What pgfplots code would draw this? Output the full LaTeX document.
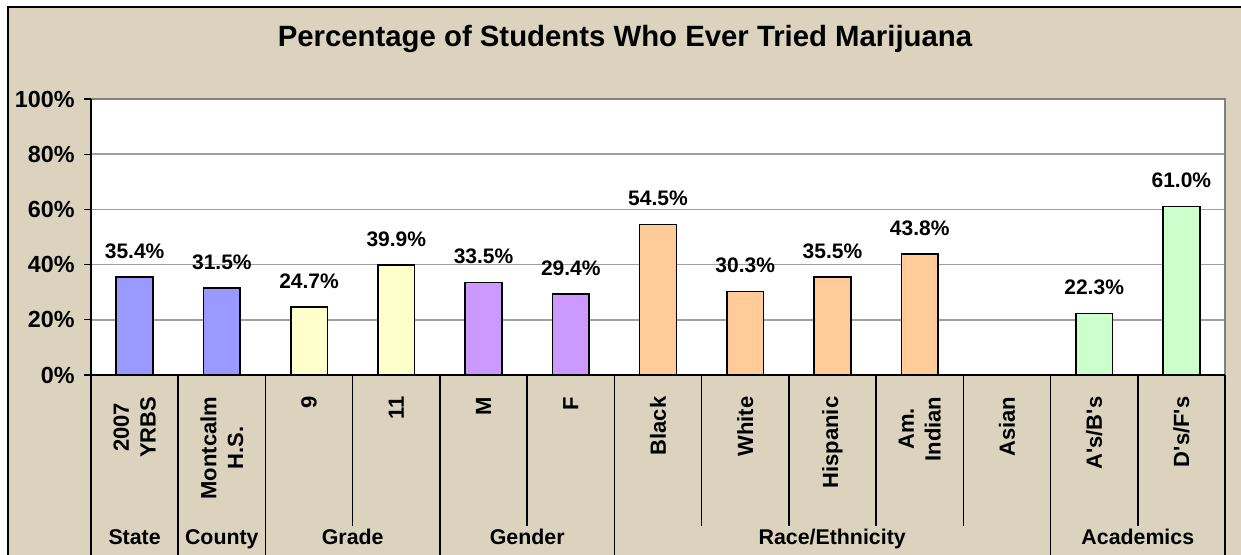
\documentclass[border=0pt]{standalone}
\usepackage{fontspec}
\setmainfont{Liberation Sans}
\usepackage{pgfplots}
\pgfplotsset{compat=1.18}
\definecolor{paper}{HTML}{DCD3BF}
\definecolor{barBlue}{HTML}{9999FF}
\definecolor{barYellow}{HTML}{FFFFCC}
\definecolor{barViolet}{HTML}{CC99FF}
\definecolor{barPeach}{HTML}{FFCC99}
\definecolor{barGreen}{HTML}{CCFFCC}
\definecolor{gridGrey}{HTML}{A0A0A0}
\definecolor{frameGrey}{HTML}{808080}

\begin{document}
\begin{tikzpicture}[x=0.75pt,y=0.75pt]
\useasboundingbox (0,0) rectangle (1241,555);
\fill[white] (0,0) rectangle (1241,555);
\fill[paper] (8,0) rectangle (1241,548);
\draw[line width=1.5pt] (8,0) -- (8,548) -- (1241,548);

\node[font=\bfseries\fontsize{22}{26}\selectfont, anchor=base] at (625,508)
  {Percentage of Students Who Ever Tried Marijuana};

\begin{axis}[
  at={(68.25pt,135pt)}, anchor=south west,
  width=850.5pt, height=207pt, scale only axis,
  xmin=0.5, xmax=13.5, ymin=0, ymax=100,
  xtick=\empty,
  ytick={0,20,40,60,80,100}, ytick pos=left,
  yticklabel={\pgfmathprintnumber[assume math mode=true]{\tick}\%},
  yticklabel style={font=\bfseries\fontsize{17.5}{20}\selectfont, xshift=-3.5pt},
  tick align=outside, major tick length=5.25pt,
  tick style={black,line width=1pt},
  ymajorgrids, grid style={gridGrey,line width=1.1pt},
  axis line style={draw=none},
  axis background/.style={fill=white},
  clip=false,
  ybar, bar width=27.5pt,
  nodes near coords={\pgfmathprintnumber[fixed,fixed zerofill,precision=1,assume math mode=true]{\pgfplotspointmeta}\%},
  every node near coord/.append style={font=\bfseries\fontsize{15.75}{18}\selectfont,
    anchor=center, yshift=19.5pt, black},
]
% State / County
\addplot[fill=barBlue, draw=black, line width=1.2pt, bar shift=0pt] coordinates {(1,35.4) (2,31.5)};
% Grade
\addplot[fill=barYellow, draw=black, line width=1.2pt, bar shift=0pt] coordinates {(3,24.7) (4,39.9)};
% Gender
\addplot[fill=barViolet, draw=black, line width=1.2pt, bar shift=0pt] coordinates {(5,33.5) (6,29.4)};
% Race/Ethnicity (no Asian value)
\addplot[fill=barPeach, draw=black, line width=1.2pt, bar shift=0pt] coordinates {(7,54.5) (8,30.3) (9,35.5) (10,43.8)};
% Academics
\addplot[fill=barGreen, draw=black, line width=1.2pt, bar shift=0pt] coordinates {(12,22.3) (13,61.0)};

\draw[frameGrey, line width=1.5pt] (rel axis cs:0,1) -- (rel axis cs:1,1) -- (rel axis cs:1,0);
\draw[black, line width=1.5pt] (rel axis cs:0,1) -- (rel axis cs:0,0) -- (rel axis cs:1,0);
\end{axis}

% category separators below the axis
\foreach \k in {0,1,2,4,6,11,13}
  \draw[line width=1.2pt] ({91+87.2308*\k},180) -- ++(0,-180);
\foreach \k in {3,5,7,8,9,10,12}
  \draw[line width=1.2pt] ({91+87.2308*\k},180) -- ++(0,-151);

% rotated category labels
\foreach \i/\lab in {1/{2007\\YRBS}, 2/{Montcalm\\H.S.}, 3/9, 4/11, 5/M, 6/F,
    7/Black, 8/White, 9/Hispanic, 10/{Am.\\Indian}, 11/Asian,
    12/{A\textquotesingle s/B\textquotesingle s}, 13/{D\textquotesingle s/F\textquotesingle s}}
  \node[rotate=90, anchor=east, align=center, font=\bfseries\fontsize{16.5}{20}\selectfont]
    at ({91+87.2308*(\i-0.5)},163) {\lab};

% group labels
\foreach \xc/\lab in {134.6/State, 221.8/County, 352.7/Grade, 527.2/Gender,
    832.2/Race\slash Ethnicity, 1137.8/Academics}
  \node[anchor=base, font=\bfseries\fontsize{16}{19}\selectfont] at (\xc,10) {\lab};
\end{tikzpicture}
\end{document}
